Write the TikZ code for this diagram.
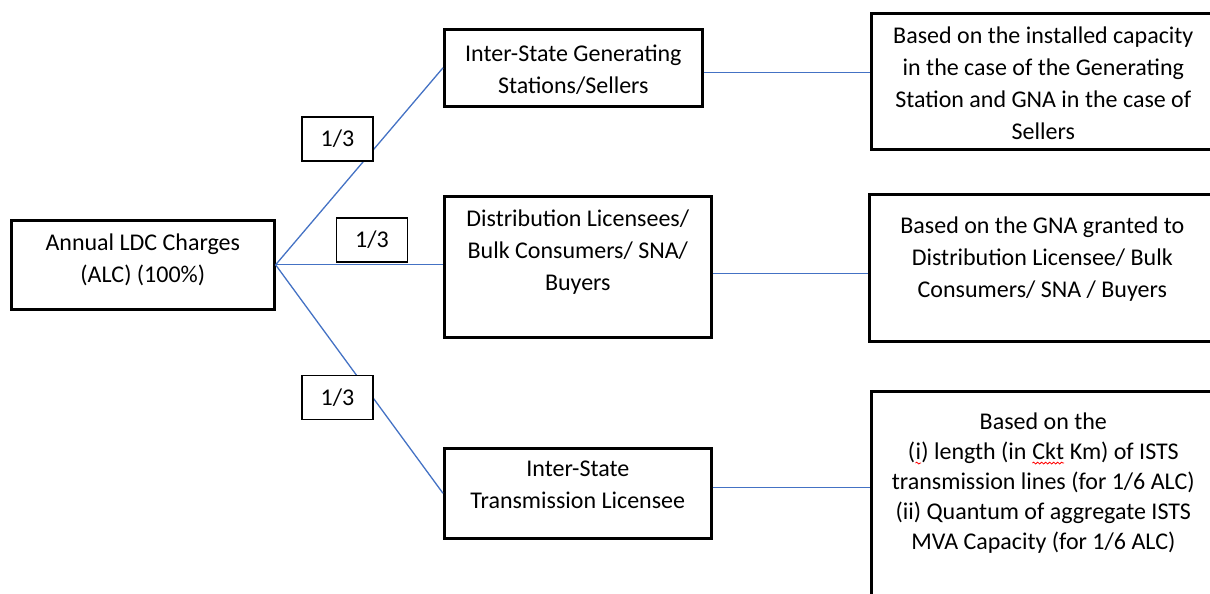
\documentclass[tikz,border=0pt]{standalone}
\usepackage{fontspec}
\setmainfont{Carlito}
\usetikzlibrary{positioning,decorations.pathmorphing}
\definecolor{linkblue}{RGB}{68,114,196}
\tikzset{
    % Define box style
    boxnode/.style={
           draw=black,
           line width=1.3pt,
           rectangle,
           anchor=north west,
           inner sep=0pt,},
    % Define style of the text inside a box
    boxtext/.style={
           align=center,
           anchor=north,
           inner sep=0pt,
           font=\fontsize{12}{16}\selectfont,},
    % Define connector style
    pil/.style={
           draw=linkblue,
           line width=0.65pt,}
}
% Spell-check squiggle under a word
\newcommand\redwave[1]{\tikz[baseline=(w.base)]{\node[inner sep=0pt, outer sep=0pt, anchor=base] (w) {#1};
  \draw[red, line width=0.4pt, decorate, decoration={snake, amplitude=0.45pt, segment length=2pt}] ([yshift=-1.6pt]w.base west) -- ([yshift=-1.6pt]w.base east);}}
\begin{document}
\begin{tikzpicture}[x=0.5pt, y=-0.5pt,
fracnode/.style={draw=black, line width=0.65pt, fill=white, minimum width=35.5pt, minimum height=22pt, inner sep=0pt, font=\fontsize{12}{16}\selectfont},
]
\useasboundingbox (0,0) rectangle (1210,594);
%Nodes
\node[boxnode, minimum width=131.5pt, minimum height=44.5pt,
      label={[boxtext, yshift=-7pt]north:{Annual LDC Charges\\(ALC) (100\%)}}] (ALC) at (10,219) {};

\node[boxnode, minimum width=129pt, minimum height=38.5pt,
      label={[boxtext, yshift=-8.4pt]north:{Inter-State Generating\\Stations/Sellers}}] (ISGS) at (443,28) {};
\node[boxnode, minimum width=133.5pt, minimum height=70.5pt,
      label={[boxtext, yshift=-7.4pt]north:{Distribution Licensees/\\Bulk Consumers/ SNA/\\Buyers}}] (DL) at (443,195) {};
\node[boxnode, minimum width=133.5pt, minimum height=45pt,
      label={[boxtext, yshift=-7pt]north:{Inter-State\\Transmission Licensee}}] (IST) at (443,447) {};

\node[boxnode, minimum width=172pt, minimum height=68pt,
      label={[boxtext, yshift=-7.4pt]north:{Based on the installed capacity\\in the case of the Generating\\Station and GNA in the case of\\Sellers}}] (RB1) at (870,12) {};
\node[boxnode, minimum width=173pt, minimum height=73.5pt,
      label={[boxtext, yshift=-11.9pt]north:{Based on the GNA granted to\\Distribution Licensee/ Bulk\\Consumers/ SNA / Buyers}}] (RB2) at (868,193) {};
\node[boxnode, minimum width=172pt, minimum height=115pt,
      label={[boxtext, font=\fontsize{12}{15}\selectfont, yshift=-11.4pt]north:{Based on the\\(\redwave{i}) length (in \redwave{Ckt} Km) of ISTS\\transmission lines (for 1/6 ALC)\\(ii) Quantum of aggregate ISTS\\MVA Capacity (for 1/6 ALC)}}] (RB3) at (870,390) {};

%Connectors
\path[pil] (ALC.east) edge (ISGS.west)
           (ALC.east) edge (ALC.east -| DL.west)
           (ALC.east) edge (IST.west);

\path[pil] ([yshift=-2.25pt]ISGS.east) edge ([yshift=-2.25pt]ISGS.east -| RB1.west);
\path[pil] ([yshift=-3.25pt]DL.east) edge ([yshift=-3.25pt]DL.east -| RB2.west);
\path[pil] ([yshift=3pt]IST.east) edge ([yshift=3pt]IST.east -| RB3.west);

%Shares
\node[fracnode] (F1) at (337.5,139) {1/3};
\node[fracnode] (F2) at (372,240) {1/3};
\node[fracnode] (F3) at (337.5,397.5) {1/3};

\end{tikzpicture}
\end{document}
